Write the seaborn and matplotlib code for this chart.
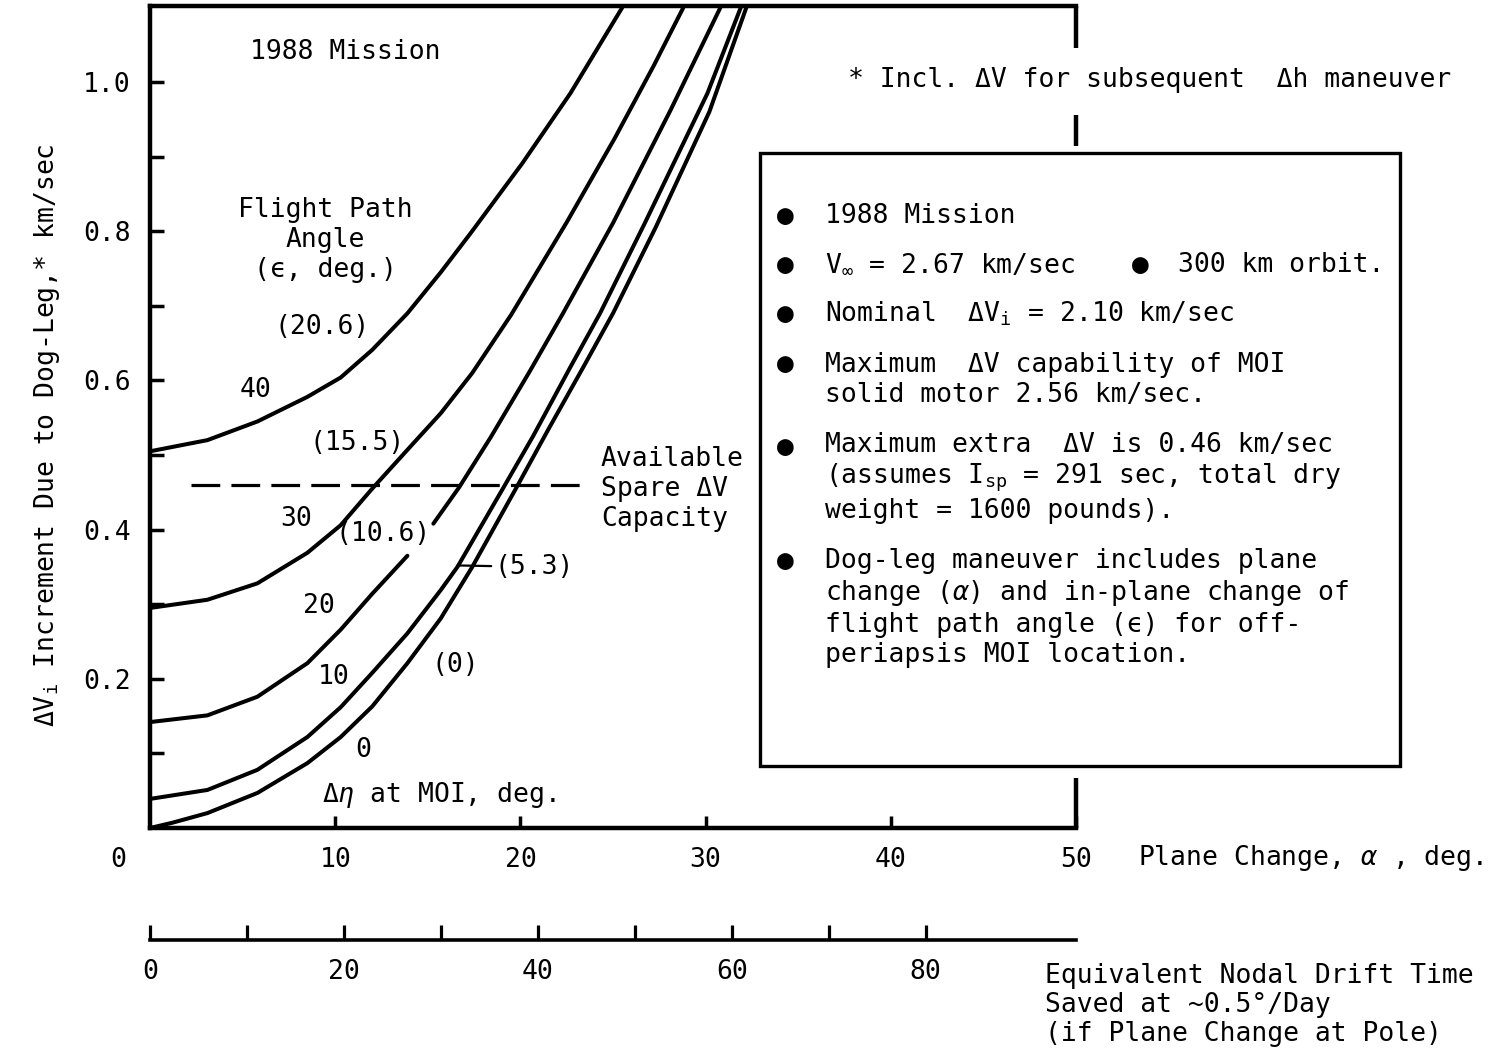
import matplotlib
matplotlib.use("Agg")
import matplotlib.pyplot as plt
import seaborn as sns
from matplotlib.patches import Rectangle

# ------------------------------------------------------------------ data
# Plane change alpha (deg) vs dV_i increment (km/sec); one curve per
# delta-eta at MOI (deg), flight path angle epsilon in parentheses.
eta_labels = ["40", "30", "20", "10", "0"]
eps_labels = ["(20.6)", "(15.5)", "(10.6)", "(5.3)", "(0)"]

alpha_40 = [0, 3.1, 5.8, 8.5, 10.3, 12.0, 13.9, 15.7, 17.3, 20.1, 22.7, 25.5]
dv_40 = [0.505, 0.520, 0.545, 0.578, 0.604, 0.641, 0.690, 0.745, 0.797, 0.891, 0.985, 1.100]

alpha_30 = [0, 3.1, 5.8, 8.5, 10.3, 12.0, 13.9, 15.7, 17.4, 19.5, 22.5, 25.1, 27.2, 28.8]
dv_30 = [0.295, 0.306, 0.328, 0.369, 0.406, 0.455, 0.507, 0.556, 0.610, 0.688, 0.812, 0.925, 1.022, 1.100]

alpha_20 = [0, 3.1, 5.8, 8.5, 10.3, 12.0, 13.9, 15.3, 16.7, 18.4, 20.5, 22.3, 25.0, 28.1, 30.8]
dv_20 = [0.142, 0.151, 0.176, 0.221, 0.266, 0.314, 0.365, 0.408, 0.457, 0.524, 0.612, 0.690, 0.811, 0.962, 1.100]

alpha_10 = [0, 3.1, 5.8, 8.5, 10.3, 12.0, 13.9, 15.7, 16.6, 19.1, 20.7, 22.7, 24.3, 26.7, 30.1, 31.9]
dv_10 = [0.039, 0.051, 0.078, 0.122, 0.162, 0.208, 0.261, 0.319, 0.350, 0.457, 0.526, 0.618, 0.690, 0.810, 0.985, 1.100]

alpha_0 = [0, 1.2, 3.1, 5.8, 8.5, 10.3, 12.0, 13.9, 15.7, 17.4, 19.8, 21.5, 23.4, 25.0, 27.3, 30.2, 32.2]
dv_0 = [0.0, 0.007, 0.020, 0.047, 0.087, 0.122, 0.163, 0.221, 0.281, 0.350, 0.457, 0.534, 0.618, 0.690, 0.805, 0.960, 1.100]

spare_dv = 0.46              # available spare dV capacity, km/sec
spare_alpha = [2.2, 23.6]    # extent of the dashed line

x_ticks = [10, 20, 30, 40, 50]
x_ticklabels = ["10", "20", "30", "40", "50"]
y_major = [0.2, 0.4, 0.6, 0.8, 1.0]
y_major_labels = ["0.2", "0.4", "0.6", "0.8", "1.0"]
y_minor = [0.1, 0.3, 0.5, 0.7, 0.9]

drift_major = [0, 20, 40, 60, 80]
drift_major_labels = ["0", "20", "40", "60", "80"]
drift_minor = [10, 30, 50, 70]
drift_max = 95.5

box_items = [
    "1988 Mission",
    None,  # V-infinity line drawn separately
    "Nominal  \u0394V$_{\\mathrm{i}}$ = 2.10 km/sec",
    "Maximum  \u0394V capability of MOI\nsolid motor 2.56 km/sec.",
    "Maximum extra  \u0394V is 0.46 km/sec\n(assumes I$_{\\mathrm{sp}}$ = 291 sec, total dry\nweight = 1600 pounds).",
    "Dog-leg maneuver includes plane\nchange ($\\alpha$) and in-plane change of\nflight path angle (\u03f5) for off-\nperiapsis MOI location.",
]

# ------------------------------------------------------------------ style
sns.set_style("white")
plt.rcParams["font.family"] = ["DejaVu Sans Mono", "DejaVu Sans"]
plt.rcParams["mathtext.fontset"] = "custom"
plt.rcParams["mathtext.rm"] = "DejaVu Sans Mono"
plt.rcParams["mathtext.it"] = "DejaVu Sans Mono:italic"
plt.rcParams["mathtext.bf"] = "DejaVu Sans Mono:bold"
for k in ["text.color", "axes.labelcolor", "xtick.color", "ytick.color", "axes.edgecolor"]:
    plt.rcParams[k] = "black"

W, H = 1504, 1056
FS = 19


def fx(px):
    return px / W


def fy(py):
    return 1 - py / H


fig = plt.figure(figsize=(W / 100, H / 100), dpi=100)
fig.patch.set_facecolor("white")

AX_L, AX_R, AX_T, AX_B = 150, 1076, 6, 828
ax = fig.add_axes([fx(AX_L), fy(AX_B), fx(AX_R) - fx(AX_L), fy(AX_T) - fy(AX_B)])
ax.set_facecolor("white")

LW = 2.9
curves = [(alpha_40, dv_40), (alpha_30, dv_30), (alpha_10, dv_10), (alpha_0, dv_0)]
for xs, ys in curves:
    sns.lineplot(x=xs, y=ys, ax=ax, color="black", lw=LW, sort=False, estimator=None)

# curve for 20 deg is interrupted by its "(10.6)" label
GAP = 7
sns.lineplot(x=alpha_20[:GAP], y=dv_20[:GAP], ax=ax, color="black", lw=LW, sort=False, estimator=None)
sns.lineplot(x=alpha_20[GAP:], y=dv_20[GAP:], ax=ax, color="black", lw=LW, sort=False, estimator=None)
for ln in ax.lines:
    ln.set_solid_joinstyle("round")
    ln.set_solid_capstyle("round")

# available spare dV (dashed)
sns.lineplot(x=spare_alpha, y=[spare_dv, spare_dv], ax=ax, color="black", lw=2.3,
             sort=False, estimator=None)
ax.lines[-1].set_dashes((9, 3.5))

ax.set_xlim(0, 50)
ax.set_ylim(0, 1.102)

# spines
for s in ["left", "bottom", "top"]:
    ax.spines[s].set_linewidth(3.2)
    ax.spines[s].set_color("black")
ax.spines["right"].set_visible(False)
for y0, y1 in [(1.0, 0.949), (0.867, 0.830), (0.061, 0.0)]:
    ax.plot([1, 1], [y0, y1], transform=ax.transAxes, color="black", lw=3.2,
            clip_on=False, solid_capstyle="butt")

# ticks
ax.set_xticks(x_ticks)
ax.set_xticklabels(x_ticklabels)
ax.tick_params(axis="x", bottom=True, direction="in", length=9, width=2.5, pad=14, labelsize=FS)
ax.set_yticks(y_major)
ax.set_yticklabels(y_major_labels)
ax.set_yticks(y_minor, minor=True)
ax.tick_params(axis="y", which="both", left=True, direction="in", length=10, width=2.5, pad=14,
               labelsize=FS)
ax.annotate("0", xy=(-1.73, 0), xycoords=("data", "axes fraction"), xytext=(0, -14),
            textcoords="offset points", ha="center", va="top", fontsize=FS)

ax.set_ylabel("\u0394V$_{\\mathrm{i}}$ Increment Due to Dog-Leg,* km/sec", fontsize=FS, va="center")
ax.yaxis.set_label_coords(-0.111, 0.478)
ax.set_xlabel("")

# labels inside plot
ax.text(5.4, 1.04, "1988 Mission", fontsize=FS, ha="left", va="center")
ax.text(9.45, 0.788, "Flight Path\nAngle\n(\u03f5, deg.)", fontsize=FS, ha="center", va="center",
        multialignment="center")
ax.text(9.3, 0.672, eps_labels[0], fontsize=FS, ha="center", va="center")
ax.text(5.7, 0.587, eta_labels[0], fontsize=FS, ha="center", va="center")
ax.text(11.2, 0.516, eps_labels[1], fontsize=FS, ha="center", va="center")
ax.text(7.9, 0.414, eta_labels[1], fontsize=FS, ha="center", va="center")
ax.text(12.6, 0.394, eps_labels[2], fontsize=FS, ha="center", va="center")
ax.annotate(eps_labels[3], xy=(16.6, 0.352), xytext=(18.6, 0.350), fontsize=FS,
            ha="left", va="center",
            arrowprops=dict(arrowstyle="-", lw=1.6, color="black", shrinkA=0, shrinkB=0))
ax.text(9.1, 0.298, eta_labels[2], fontsize=FS, ha="center", va="center")
ax.text(9.9, 0.202, eta_labels[3], fontsize=FS, ha="center", va="center")
ax.text(16.5, 0.218, eps_labels[4], fontsize=FS, ha="center", va="center")
ax.text(11.5, 0.105, eta_labels[4], fontsize=FS, ha="center", va="center")
ax.text(9.3, 0.044, "\u0394$\\eta$ at MOI, deg.", fontsize=FS, ha="left", va="center")
ax.text(24.35, 0.454, "Available\nSpare \u0394V\nCapacity", fontsize=FS, ha="left", va="center")

# ------------------------------------------------------------------ drift-time scale
ax2 = fig.add_axes([fx(AX_L), fy(940), fx(AX_R) - fx(AX_L), 0.0005])
ax2.set_xlim(0, drift_max)
ax2.set_ylim(0, 1)
ax2.patch.set_visible(False)
for s in ["left", "right", "top"]:
    ax2.spines[s].set_visible(False)
ax2.spines["bottom"].set_linewidth(2.6)
ax2.spines["bottom"].set_color("black")
ax2.set_yticks([])
ax2.set_xticks(drift_major)
ax2.set_xticklabels(drift_major_labels)
ax2.set_xticks(drift_minor, minor=True)
ax2.tick_params(axis="x", which="both", bottom=True, direction="in", length=11, width=2.3, pad=14,
                labelsize=FS)

fig.text(fx(1045), fy(1005), "Equivalent Nodal Drift Time\nSaved at ~0.5\u00b0/Day\n(if Plane Change at Pole)",
         fontsize=FS, ha="left", va="center", linespacing=1.15)
fig.text(fx(1138), fy(858), "Plane Change, $\\alpha$ , deg.", fontsize=FS, ha="left", va="center")
fig.text(fx(848), fy(80), "* Incl. \u0394V for subsequent  \u0394h maneuver", fontsize=FS,
         ha="left", va="center")

# ------------------------------------------------------------------ notes box
fig.add_artist(Rectangle((fx(760), fy(766)), fx(1400) - fx(760), fy(153) - fy(766),
                         transform=fig.transFigure, fill=True, facecolor="white",
                         edgecolor="black", lw=2.4, zorder=5))
BUL = 20
bullet_y = [216, 265, 314, 380, 478, 608]
for txt, by in zip(box_items, bullet_y):
    if txt is None:
        continue
    n = txt.count("\n") + 1
    first = by - (n - 1) * 31.5 / 2
    fig.text(fx(785), fy(first), "\u25cf", fontsize=BUL, ha="center", va="center", zorder=6)
    fig.text(fx(825), fy(by), txt, fontsize=FS, ha="left", va="center", linespacing=1.2, zorder=6)
fig.text(fx(785), fy(265), "\u25cf", fontsize=BUL, ha="center", va="center", zorder=6)
fig.text(fx(825), fy(265), "V$_{\\infty}$ = 2.67 km/sec", fontsize=FS, ha="left", va="center", zorder=6)
fig.text(fx(1140), fy(265), "\u25cf", fontsize=BUL, ha="center", va="center", zorder=6)
fig.text(fx(1178), fy(265), "300 km orbit.", fontsize=FS, ha="left", va="center", zorder=6)

fig.savefig("out.png", dpi=100, facecolor="white")
